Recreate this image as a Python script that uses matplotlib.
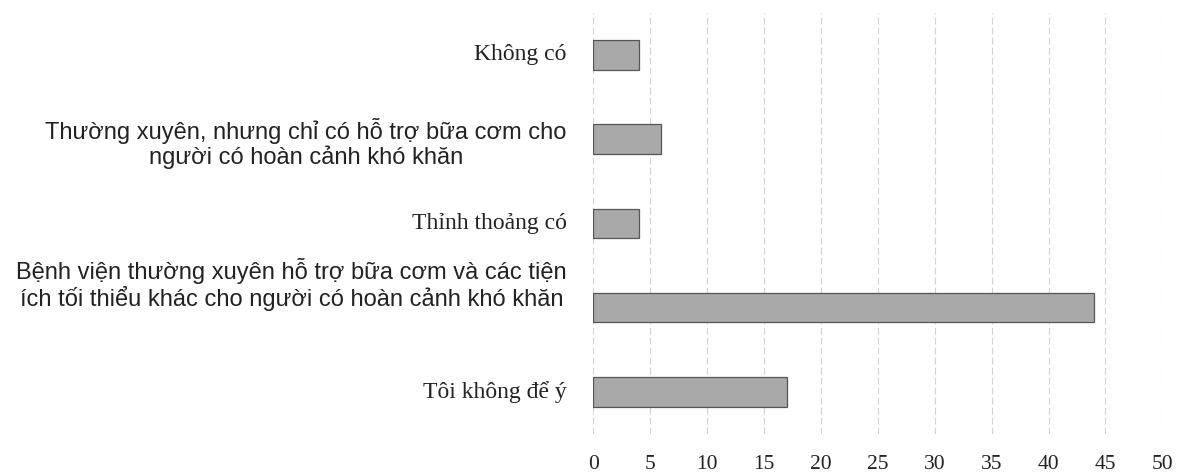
import matplotlib.pyplot as plt

categories = [
    "Không có",
    "Thường xuyên, nhưng chỉ có hỗ trợ bữa cơm cho\nngười có hoàn cảnh khó khăn",
    "Thỉnh thoảng có",
    "Bệnh viện thường xuyên hỗ trợ bữa cơm và các tiện\ních tối thiểu khác cho người có hoàn cảnh khó khăn",
    "Tôi không để ý",
]
values = [4, 6, 4, 44, 17]
label_fonts = ["Liberation Serif", "Liberation Sans", "Liberation Serif",
               "Liberation Sans", "Liberation Serif"]
# vertical nudge of each label (points), as in the original layout
label_dy = [0, -3, 0, 17, 0]
xticks = [0, 5, 10, 15, 20, 25, 30, 35, 40, 45, 50]

fig = plt.figure(figsize=(11.91, 4.75), dpi=100)
ax = fig.add_axes([0.498, 0.086, 0.478, 0.887])

pos = list(range(len(categories)))
ax.barh(pos, values, height=0.35, color="#a9a9a9", edgecolor="#555555",
        linewidth=0.9, zorder=3)

ax.set_ylim(len(categories) - 0.5, -0.5)
ax.set_yticks(pos)
ax.set_yticklabels([])
for p, txt, fam, dy in zip(pos, categories, label_fonts, label_dy):
    ax.annotate(txt, xy=(0, p), xycoords=("axes fraction", "data"),
                xytext=(-19, dy), textcoords="offset points",
                ha="right", va="center", multialignment="center",
                fontfamily=fam, fontsize=17, color="#222222", linespacing=1.1)

ax.set_xlim(0, 50)
ax.set_xticks(xticks)
ax.set_xticklabels([str(t) for t in xticks], fontfamily="Liberation Serif",
                   fontsize=15.5, color="#222222")
ax.tick_params(axis="both", length=0)
ax.tick_params(axis="x", pad=15)

ax.grid(axis="x", color="#d2d2d2", linestyle=(0, (6, 3)), linewidth=0.8, zorder=0)
for s in ax.spines.values():
    s.set_visible(False)

fig.savefig("out.png", dpi=100)
